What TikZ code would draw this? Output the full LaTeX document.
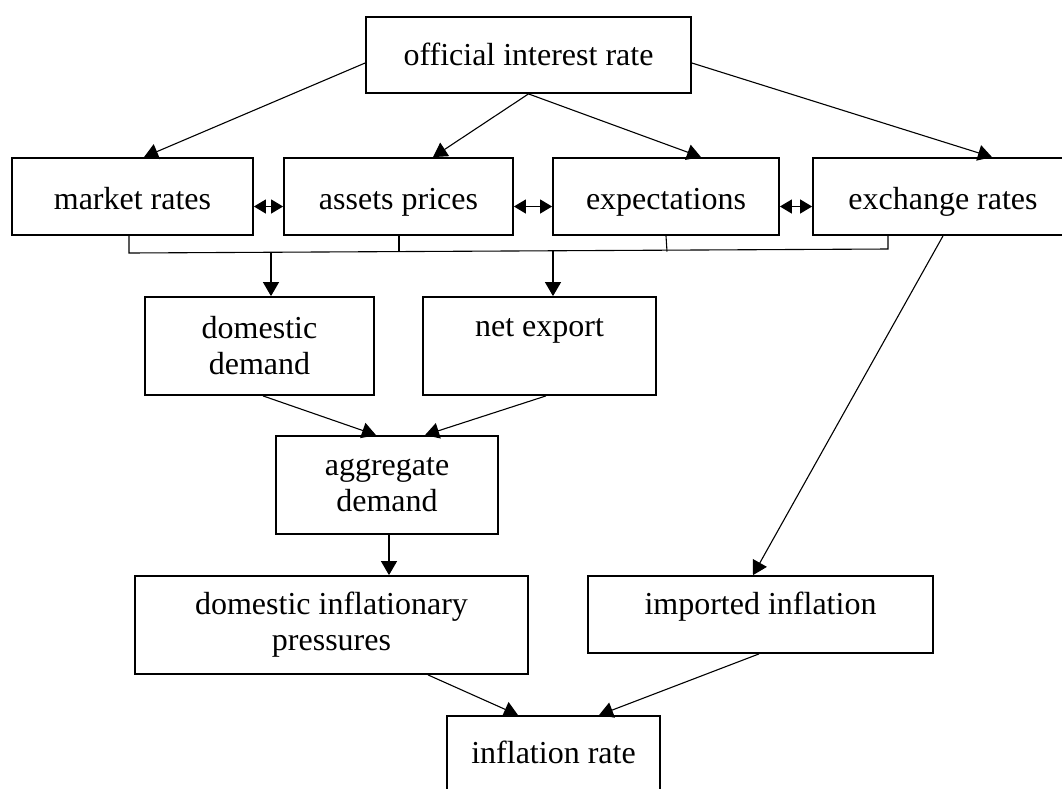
\documentclass[tikz,border=0pt]{standalone}
\usepackage{fontspec}
\setmainfont{Liberation Serif}
\usetikzlibrary{arrows.meta}
\newcommand\tx[2]{\raisebox{#1pt}[0pt][0pt]{#2}}
\begin{document}
\begin{tikzpicture}[x=1pt,y=-1pt,
  box/.style={draw, line width=1.8pt, inner sep=0pt, font=\fontsize{32}{36}\selectfont, align=center},
  conn/.style={line width=1.1pt, -{Triangle[length=14pt,width=16pt]}},
  dbl/.style={line width=1.1pt, {Triangle[length=12pt,width=14pt]}-{Triangle[length=12pt,width=14pt]}},
  plain/.style={line width=1.1pt}]
\useasboundingbox (0,0) rectangle (1062,788);
% boxes
\node[box, minimum width=325pt, minimum height=76pt] (off) at (528.5,55) {\tx{-10.2}{official interest rate}};
\node[box, minimum width=241pt, minimum height=77pt] (mkt) at (132.5,196.5) {\tx{-12.7}{market rates}};
\node[box, minimum width=229pt, minimum height=77pt] (ast) at (398.5,196.5) {\tx{-12.7}{assets prices}};
\node[box, minimum width=226pt, minimum height=77pt] (exp) at (666,196.5) {\tx{-12.7}{expectations}};
\node[box, minimum width=260pt, minimum height=77pt] (exc) at (943,196.5) {\tx{-12.7}{exchange rates}};
\node[box, minimum width=229pt, minimum height=98pt] (dd) at (259.5,346) {domestic\\demand};
\node[box, minimum width=233pt, minimum height=98pt] (ne) at (539.5,346) {\tx{9.3}{net export}};
\node[box, minimum width=222pt, minimum height=98pt] (ad) at (387,485) {aggregate\\demand};
\node[box, minimum width=393pt, minimum height=98pt] (dip) at (331.5,625) {domestic inflationary\\pressures};
\node[box, minimum width=345pt, minimum height=77pt] (imp) at (760.5,614.5) {\tx{0.3}{imported inflation}};
\node[box, minimum width=213pt, minimum height=100pt] (inf) at (553.5,766) {\tx{2.8}{inflation rate}};
% arrows from official interest rate
\draw[conn] ([yshift=-8pt]off.west) -- ([xshift=11.5pt]mkt.north);
\draw[conn] (off.south) -- ([xshift=34.5pt]ast.north);
\draw[conn] (off.south) -- ([xshift=35pt]exp.north);
\draw[conn] ([yshift=-8pt]off.east) -- ([xshift=49pt]exc.north);
% double arrows
\draw[dbl] ([yshift=-10pt]mkt.east) -- ([yshift=-10pt]ast.west);
\draw[dbl] ([yshift=-10pt]ast.east) -- ([yshift=-10pt]exp.west);
\draw[dbl] ([yshift=-10pt]exp.east) -- ([yshift=-10pt]exc.west);
% bracket
\coordinate (t1) at (129,253);
\coordinate (t2) at (399,252.3);
\coordinate (t3) at (667,251.5);
\coordinate (br) at (888,249);
\coordinate (d1) at (271,252.6);
\coordinate (d2) at (553,251.2);
\draw[plain] (t1 |- mkt.south) -- (t1) -- (br) -- (br |- exc.south);
\draw[plain] (t2 |- ast.south) -- (t2);
\draw[plain] (exp.south) -- (t3);
\draw[conn] (d1) -- (d1 |- dd.north);
\draw[conn] (d2) -- (d2 |- ne.north);
% lower arrows
\draw[conn] (exc.south) -- ([xshift=-7.5pt]imp.north);
\draw[conn] ([xshift=3.5pt]dd.south) -- ([xshift=-11pt]ad.north);
\draw[conn] ([xshift=6.5pt]ne.south) -- ([xshift=38pt]ad.north);
\draw[conn] ([xshift=2pt]ad.south) -- ([xshift=57.5pt]dip.north);
\draw[conn] ([xshift=96.5pt]dip.south) -- ([xshift=-35.5pt]inf.north);
\draw[conn] ([xshift=-1.5pt]imp.south) -- ([xshift=45.5pt]inf.north);
\end{tikzpicture}
\end{document}
